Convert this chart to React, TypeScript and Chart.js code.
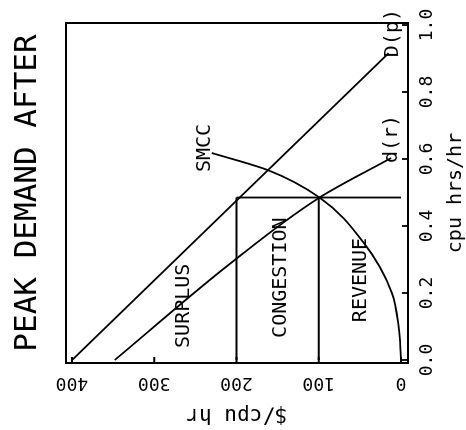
import React, { useEffect, useRef } from 'react';
import { Chart, registerables } from 'chart.js';

Chart.register(...registerables);

// Axis ticks
const Q_TICKS = [0, 0.2, 0.4, 0.6, 0.8, 1.0]; // cpu hrs/hr
const P_TICKS = [0, 100, 200, 300, 400]; // $/cpu hr

// D(p): peak demand curve
const D_Q = [0, 0.916];
const D_P = [400, 15];

// d(r): demand curve
const DR_Q = [0, 0.293, 0.485, 0.603];
const DR_P = [348, 205, 99, 12];

// SMCC: short-run marginal congestion cost
const SMCC_Q = [0, 0.1, 0.2, 0.352, 0.485, 0.567, 0.618];
const SMCC_P = [0, 3, 11, 46, 99, 162, 230];

// Region boundaries
const Q_STAR = 0.485;
const PRICE_LEVELS = [200, 100];
const Q_STAR_P = [200, 0];

// Text labels (anchor in data units)
const LABELS = ['SMCC', 'D(p)', 'd(r)', 'SURPLUS', 'CONGESTION', 'REVENUE'];
const LABEL_Q = [0.561, 0.904, 0.588, 0.036, 0.066, 0.113];
const LABEL_P = [238, 10, 11, 264, 146.5, 49];

const MONO = '"DejaVu Sans Mono", monospace';

const pts = (qs: number[], ps: number[]) => qs.map((q, i) => ({ x: q, y: ps[i] }));

const overlay = {
  id: 'overlay',
  afterDraw(chart: any) {
    const { ctx, chartArea: a } = chart;
    const x = chart.scales.x;
    const y = chart.scales.y;
    ctx.save();
    ctx.strokeStyle = '#000';
    ctx.lineWidth = 2;
    ctx.strokeRect(a.left, a.top, a.right - a.left, a.bottom - a.top);
    ctx.lineWidth = 1.8;
    ctx.beginPath();
    Q_TICKS.forEach((q) => {
      const px = x.getPixelForValue(q);
      ctx.moveTo(px, a.bottom);
      ctx.lineTo(px, a.bottom - 6);
    });
    P_TICKS.forEach((p) => {
      const py = y.getPixelForValue(p);
      ctx.moveTo(a.left, py);
      ctx.lineTo(a.left + 6, py);
    });
    ctx.stroke();

    ctx.fillStyle = '#000';
    ctx.font = '18px ' + MONO;
    ctx.textAlign = 'center';
    ctx.textBaseline = 'middle';
    P_TICKS.forEach((p) => {
      const py = y.getPixelForValue(p);
      ctx.save();
      ctx.translate(a.left - 20, py);
      ctx.rotate(-Math.PI / 2);
      ctx.fillText(String(p), 0, 0);
      ctx.restore();
    });

    ctx.font = '20px ' + MONO;
    ctx.textAlign = 'left';
    LABELS.forEach((t, i) => {
      ctx.fillText(t, x.getPixelForValue(LABEL_Q[i]), y.getPixelForValue(LABEL_P[i]));
    });
    ctx.restore();
  },
};

export default function App() {
  const ref = useRef<HTMLCanvasElement>(null);

  useEffect(() => {
    if (!ref.current) return;
    const line = { borderColor: '#000', borderWidth: 1.8, pointRadius: 0, showLine: true, fill: false };
    const chart = new Chart(ref.current, {
      type: 'scatter',
      data: {
        datasets: [
          { ...line, label: 'D(p)', data: pts(D_Q, D_P) },
          { ...line, label: 'd(r)', data: pts(DR_Q, DR_P), cubicInterpolationMode: 'monotone' },
          { ...line, label: 'SMCC', data: pts(SMCC_Q, SMCC_P), cubicInterpolationMode: 'monotone' },
          ...PRICE_LEVELS.map((p) => ({ ...line, label: 'p' + p, data: pts([0, Q_STAR], [p, p]) })),
          { ...line, label: 'q*', data: pts([Q_STAR, Q_STAR], Q_STAR_P) },
        ],
      } as any,
      options: {
        animation: false,
        responsive: false,
        maintainAspectRatio: false,
        layout: { padding: { left: 0, right: 23, top: 0, bottom: 0 } },
        plugins: {
          legend: { display: false },
          tooltip: { enabled: false },
          title: {
            display: true,
            text: 'PEAK DEMAND AFTER',
            fullSize: false,
            color: '#000',
            font: { family: MONO, size: 31, weight: 'normal' },
            padding: { top: 9, bottom: 19.8 },
          },
        },
        scales: {
          x: {
            type: 'linear',
            position: 'bottom',
            min: -0.009,
            max: 1.006,
            afterBuildTicks: (s: any) => {
              s.ticks = Q_TICKS.map((v) => ({ value: v }));
            },
            afterFit: (s: any) => {
              s.height = 58;
              s.paddingLeft = 0;
              s.paddingRight = 0;
            },
            ticks: {
              callback: (v: any) => Number(v).toFixed(1),
              color: '#000',
              font: { family: MONO, size: 18 },
              padding: 9,
              minRotation: 0,
              maxRotation: 0,
              autoSkip: false,
            },
            grid: { display: false, drawTicks: false },
            border: { display: false },
            title: {
              display: true,
              text: 'cpu hrs/hr',
              color: '#000',
              font: { family: MONO, size: 20 },
              padding: { top: 0, bottom: -2 },
            },
          },
          y: {
            type: 'linear',
            position: 'left',
            min: -8.5,
            max: 407.3,
            afterBuildTicks: (s: any) => {
              s.ticks = P_TICKS.map((v) => ({ value: v }));
            },
            afterFit: (s: any) => {
              s.width = 67;
              s.paddingTop = 0;
              s.paddingBottom = 0;
            },
            ticks: { display: false },
            grid: { display: false, drawTicks: false },
            border: { display: false },
            title: {
              display: true,
              text: '$/cpu hr',
              color: '#000',
              font: { family: MONO, size: 21 },
              padding: { top: 3, bottom: 0 },
            },
          },
        },
      } as any,
      plugins: [overlay],
    });
    return () => chart.destroy();
  }, []);

  return (
    <div style={{ position: 'fixed', left: 0, top: 0, width: 466, height: 430, overflow: 'hidden', background: '#fff' }}>
      <div
        style={{
          position: 'absolute',
          left: 0,
          top: 0,
          width: 430,
          height: 466,
          transformOrigin: '0 0',
          transform: 'translate(0px, 430px) rotate(-90deg)',
        }}
      >
        <canvas ref={ref} width={430} height={466} style={{ display: 'block', width: 430, height: 466 }} />
      </div>
    </div>
  );
}
